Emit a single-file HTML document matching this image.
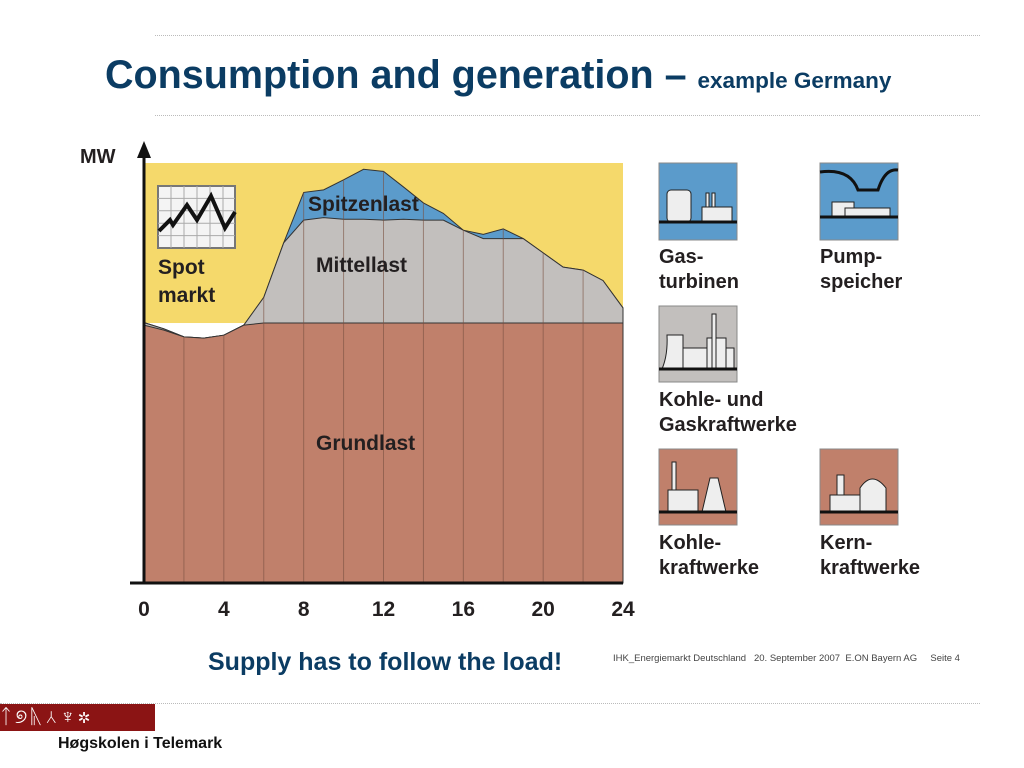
<!DOCTYPE html>
<html><head><meta charset="utf-8"><style>
body{margin:0;width:1024px;height:768px;background:#fff;position:relative;overflow:hidden;font-family:"Liberation Sans",sans-serif}
.abs{position:absolute}
.lbl{position:absolute;font-weight:bold;font-size:20px;line-height:25px;color:#231f20;font-family:"Liberation Sans",sans-serif}
.dot{position:absolute;height:0;border-top:1px dotted #bbb}
</style></head><body>
<div class="dot" style="left:155px;top:35px;width:825px"></div>
<div class="dot" style="left:155px;top:115px;width:825px"></div>
<div class="dot" style="left:0;top:703px;width:980px"></div>
<div class="abs" style="left:105px;top:53px;color:#0b3c63;font-weight:bold;font-size:39.5px;white-space:nowrap">Consumption and generation – <span style="font-size:22.5px">example Germany</span></div>

<svg class="abs" style="left:0;top:0" width="1024" height="768">
<g id="chart"></g>
<text x="80" y="163" font-family="Liberation Sans,sans-serif" font-weight="bold" font-size="20" fill="#231f20">MW</text>
</svg>

<div class="lbl" style="left:659px;top:245px">Gas-<br>turbinen</div>
<div class="lbl" style="left:820px;top:245px">Pump-<br>speicher</div>
<div class="lbl" style="left:659px;top:388px">Kohle- und<br>Gaskraftwerke</div>
<div class="lbl" style="left:659px;top:531px">Kohle-<br>kraftwerke</div>
<div class="lbl" style="left:820px;top:531px">Kern-<br>kraftwerke</div>

<svg class="abs" style="left:0;top:0" width="1024" height="768">
<g><rect x="659" y="163" width="78" height="77" fill="#5b9bcb" stroke="#888"/><rect x="667" y="190" width="24" height="32" rx="4" fill="#eee" stroke="#222"/><rect x="702" y="207" width="30" height="15" fill="#eee" stroke="#222"/><rect x="706" y="193" width="3" height="14" fill="#eee" stroke="#222"/><rect x="712" y="193" width="3" height="14" fill="#eee" stroke="#222"/><line x1="659" y1="222" x2="737" y2="222" stroke="#111" stroke-width="3"/></g>
<g><rect x="820" y="163" width="78" height="77" fill="#5b9bcb" stroke="#888"/><path d="M820 172 Q850 168 858 190 L878 190 Q885 168 898 170" fill="none" stroke="#111" stroke-width="3"/><rect x="832" y="202" width="22" height="14" fill="#eee" stroke="#222"/><rect x="845" y="208" width="45" height="9" fill="#eee" stroke="#222"/><line x1="820" y1="217" x2="898" y2="217" stroke="#111" stroke-width="3"/></g>
<g><rect x="659" y="306" width="78" height="76" fill="#c2bfbd" stroke="#888"/><path d="M662 369 Q668 355 667 335 L683 335 L683 369Z" fill="#eee" stroke="#222"/><rect x="683" y="348" width="24" height="21" fill="#eee" stroke="#222"/><rect x="707" y="338" width="19" height="31" fill="#eee" stroke="#222"/><rect x="712" y="314" width="4" height="55" fill="#eee" stroke="#222"/><rect x="726" y="348" width="8" height="21" fill="#eee" stroke="#222"/><line x1="659" y1="369" x2="737" y2="369" stroke="#111" stroke-width="3"/></g>
<g><rect x="659" y="449" width="78" height="76" fill="#c0806b" stroke="#888"/><rect x="668" y="490" width="30" height="22" fill="#eee" stroke="#222"/><rect x="672" y="462" width="4" height="28" fill="#eee" stroke="#222"/><path d="M702 512 L710 478 L718 478 L726 512Z" fill="#eee" stroke="#222"/><line x1="659" y1="512" x2="737" y2="512" stroke="#111" stroke-width="3"/></g>
<g><rect x="820" y="449" width="78" height="76" fill="#c0806b" stroke="#888"/><rect x="830" y="495" width="30" height="17" fill="#eee" stroke="#222"/><rect x="837" y="475" width="7" height="20" fill="#eee" stroke="#222"/><path d="M860 512 L860 488 Q872 470 886 488 L886 512Z" fill="#eee" stroke="#222"/><line x1="820" y1="512" x2="898" y2="512" stroke="#111" stroke-width="3"/></g>
</svg>

<div class="abs" style="left:208px;top:648px;color:#0b3c63;font-weight:bold;font-size:25px;white-space:nowrap">Supply has to follow the load!</div>
<div class="abs" style="left:613px;top:653px;color:#444;font-size:9.5px;white-space:nowrap">IHK_Energiemarkt Deutschland &nbsp; 20. September 2007 &nbsp;E.ON Bayern AG &nbsp; &nbsp; Seite 4</div>
<div class="abs" style="left:0;top:704px;width:155px;height:27px;background:#8b1414;color:#fff;font-size:20px;line-height:27px;letter-spacing:3px">ᛏ୭ᚣ⅄♆✲</div>
<div class="abs" style="left:58px;top:735px;font-weight:bold;font-size:16px;color:#111">Høgskolen i Telemark</div>

<script>
const hours=[0,1,2,3,4,5,6,7,8,9,10,11,12,13,14,15,16,17,18,19,20,21,22,23,24];
const load=[62,60.5,58.6,58.3,59,61.4,68,81,93,93.6,96,98.5,98,94.3,90.5,88,84,83,84.3,82,78.6,75.2,74.5,72,65.5];
const mid=[62,60.5,58.6,58.3,59,61.4,68,81,86.4,87,86.6,86.6,86.4,86.6,86.4,86.4,84,82,82,82,78.6,75.2,74.5,72,65.5];
const base=[61.4,60.2,58.6,58.3,59,61.4,61.9,61.9,61.9,61.9,61.9,61.9,61.9,61.9,61.9,61.9,61.9,61.9,61.9,61.9,61.9,61.9,61.9,61.9,61.9];
const xTicks=[0,4,8,12,16,20,24];
const yMax=100;
const X=h=>144+h*(623-144)/24, Y=v=>583-v*(583-163)/yMax;
const g=document.getElementById('chart'),NS='http://www.w3.org/2000/svg';
function el(t,a){const e=document.createElementNS(NS,t);for(const k in a)e.setAttribute(k,a[k]);g.appendChild(e);return e;}
const bg=el('rect',{x:X(0),y:Y(yMax),width:X(24)-X(0),height:Y(base[10])-Y(yMax),fill:'#f5d96b'});

function area(arr,fill,name){const p=hours.map((h,i)=>X(h)+','+Y(arr[i])).join(' ');
const e=el('polygon',{points:X(0)+','+Y(0)+' '+p+' '+X(24)+','+Y(0),fill:fill,stroke:'#333','stroke-width':1});
}
area(load,'#5b9bcb','spitzenlast-area');
area(mid,'#c2bfbd','mittellast-area');
area(base,'#c0806b','grundlast-area');
for(let h=2;h<24;h+=2){const i=hours.indexOf(h);const l=el('line',{x1:X(h),x2:X(h),y1:Y(0),y2:Y(load[i]),stroke:'#7a5040','stroke-width':1,opacity:0.6});
}
const ya=el('line',{x1:X(0),x2:X(0),y1:Y(0),y2:150,stroke:'#111','stroke-width':3});
const ar=el('polygon',{points:(X(0)-7)+',158 '+X(0)+',141 '+(X(0)+7)+',158',fill:'#111'});
const xa=el('line',{x1:130,x2:X(24),y1:Y(0),y2:Y(0),stroke:'#111','stroke-width':3});
xTicks.forEach(t=>{const e=el('text',{x:X(t),y:616,'text-anchor':'middle','font-family':'Liberation Sans,sans-serif','font-weight':'bold','font-size':21,fill:'#231f20'});e.textContent=t;
});
function txt(s,x,y,n){const e=el('text',{x:x,y:y,'font-family':'Liberation Sans,sans-serif','font-weight':'bold','font-size':21,fill:'#231f20'});e.textContent=s;}
txt('Spitzenlast',308,211,'spitzenlast-label');txt('Mittellast',316,272,'mittellast-label');txt('Grundlast',316,450,'grundlast-label');
txt('Spot',158,274,'spot-label');txt('markt',158,302,'markt-label');
const ic=el('rect',{x:158,y:186,width:77,height:62,fill:'#f4f4f4',stroke:'#777','stroke-width':2});
for(let k=1;k<6;k++){const a=el('line',{x1:158+k*13,x2:158+k*13,y1:186,y2:248,stroke:'#aaa'});}
for(let k=1;k<5;k++){const a=el('line',{x1:158,x2:235,y1:186+k*12.4,y2:186+k*12.4,stroke:'#aaa'});}
const pl=el('polyline',{points:'159,231 170,220 173,225 187,205 197,220 211,196 225,228 235,212',fill:'none',stroke:'#111','stroke-width':4});
</script>
</body></html>
